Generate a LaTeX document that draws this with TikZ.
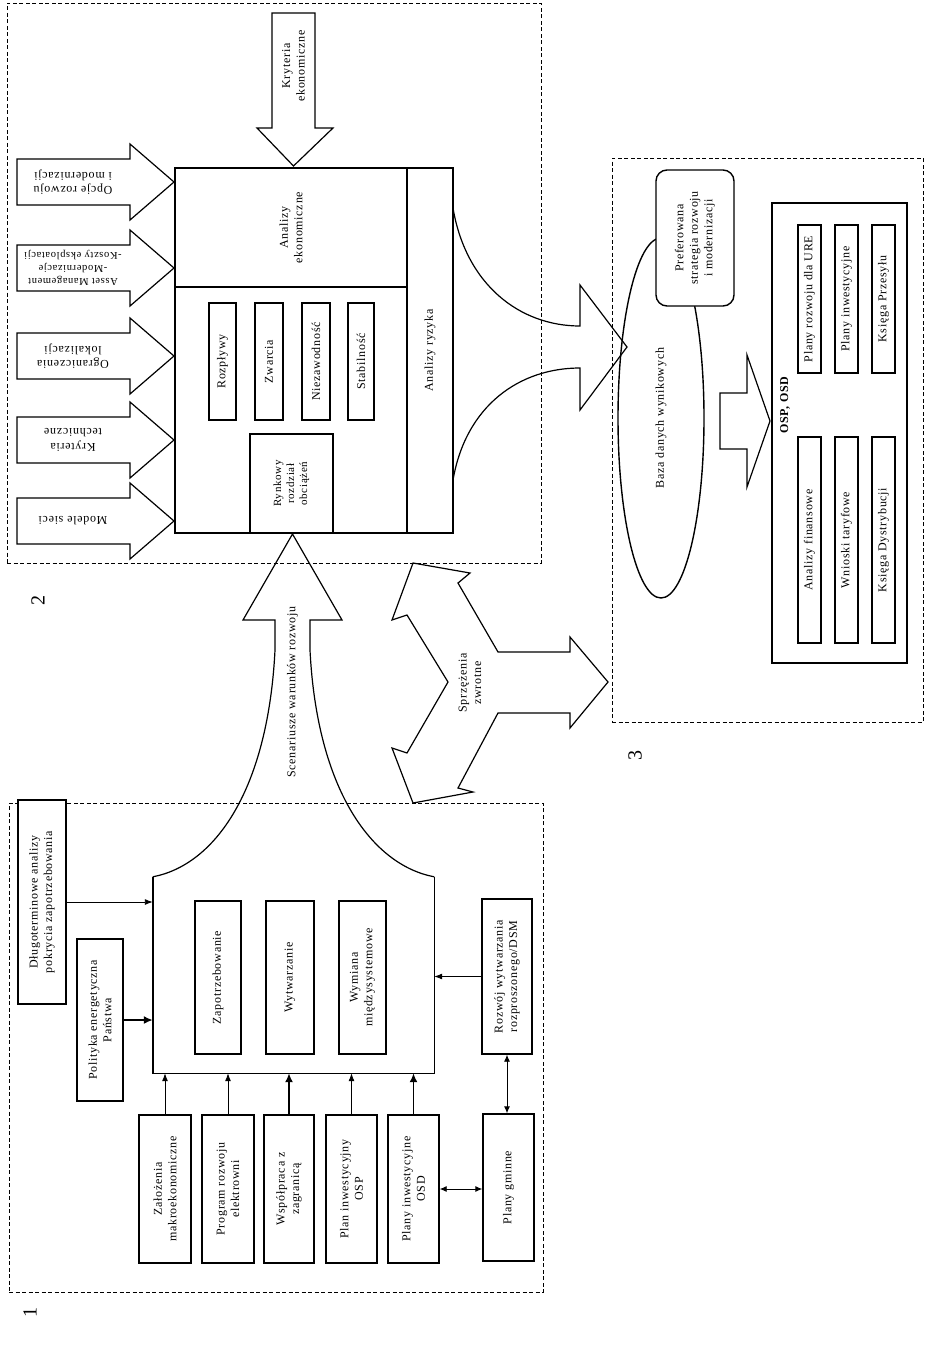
\documentclass[tikz,border=0pt]{standalone}
\usepackage{fontspec}
\setmainfont{Liberation Serif}[LetterSpace=6]
\usetikzlibrary{arrows.meta,fit,shapes.geometric}
\tikzset{
  bx/.style={draw, line width=1.4pt, inner sep=0pt, fill=white},
  tbx/.style={draw, line width=1.1pt, inner sep=0pt, fill=white},
  panel/.style={draw, line width=0.6pt, dash pattern=on 4pt off 2.5pt, inner sep=0pt},
  blk/.style={draw, line width=1.2pt, line join=miter},
  lbl/.style={align=center, inner sep=0pt},
  vlbl/.style={align=center, inner sep=0pt, rotate=90},
  thinarr/.style={line width=0.9pt, -{Latex[length=8pt,width=6pt]}},
  thickarr/.style={line width=1.7pt, -{Latex[length=9pt,width=8pt]}},
  dblarr/.style={line width=0.9pt, {Latex[length=7pt,width=6pt]}-{Latex[length=7pt,width=6pt]}},
  numlbl/.style={font=\fontsize{20}{20}\selectfont, rotate=90, inner sep=0pt},
}
% box given by two corners, with vertical text at its centre
\newcommand\bxn[4][bx]{%
  \node[#1, fit={#3}] (#2) {};
  \node[vlbl] (#2-t) at (#2.center) {#4};}
\newcommand\rar[4]{%
  \draw[blk] (17,#1-23) -- (130,#1-23) -- (130,#1-38) -- (174,#1) -- (130,#1+38) -- (130,#1+23) -- (17,#1+23) -- cycle;
  \node[lbl, rotate=180, font=#4] (#2) at (73,#1) {#3};}
\begin{document}
\begin{tikzpicture}[x=1pt,y=-1pt,font=\fontsize{12}{14.5}\selectfont]
\useasboundingbox (0,0) rectangle (928,1349);

% ---------------- panel 2 ----------------
\node[panel, fit={(7,3)(541,563)}] (p2) {};
\node[numlbl] (n2) at (38,600) {2};

\rar{182}{opcje}{Opcje rozwoju\\i modernizacji}{\fontsize{12}{14.5}\selectfont}
\rar{268}{asset}{Asset Management\\-Modernizacje\\-Koszty eksploatacji}{\fontsize{10.5}{13}\selectfont}
\rar{356}{ogr}{Ograniczenia\\lokalizacji}{\fontsize{12}{14.5}\selectfont}
\rar{440}{ktech}{Kryteria\\techniczne}{\fontsize{12}{14.5}\selectfont}
\rar{521}{mod}{Modele sieci}{\fontsize{12}{14.5}\selectfont}

\draw[blk] (272,13) -- (315,13) -- (315,128) -- (333,128) -- (293.5,166) -- (257,128) -- (272,128) -- cycle;
\node[vlbl] (kek) at (293.5,66) {Kryteria\\ekonomiczne};

\bxn{econ}{(175,168)(407,287)}{Analizy\\ekonomiczne}
\node[bx, fit={(175,287)(407,533)}] (tech) {};
\bxn{risk}{(407,168)(453,533)}{Analizy ryzyka}
\bxn[tbx]{rozp}{(209,303)(236,420)}{Rozpływy}
\bxn[tbx]{zwar}{(255,303)(283,420)}{Zwarcia}
\bxn[tbx]{niez}{(302,303)(330,420)}{Niezawodność}
\bxn[tbx]{stab}{(348,303)(374,420)}{Stabilność}
\node[tbx, fit={(250,434)(333,533)}] (rynk) {};
\node[vlbl, font=\fontsize{11}{13}\selectfont] (rynk-t) at (rynk.center) {Rynkowy\\rozdział\\obciążeń};

% curved arrow from risk analysis to result database
\draw[blk] (453,208) .. controls (466,285) and (520,326) .. (580,326) -- (580,285) -- (627,347) -- (580,410) -- (580,368) .. controls (520,368) and (466,405) .. (453,480);

% ---------------- panel 3 ----------------
\node[panel, fit={(612,158)(923,722)}] (p3) {};
\node[numlbl] (n3) at (635,755) {3};
\node[draw, ellipse, line width=1.4pt, minimum width=86, minimum height=360, inner sep=0pt] (baza) at (661,418) {};
\node[vlbl] (baza-t) at (baza.center) {Baza danych wynikowych};
\node[bx, rounded corners=11pt, fit={(656,170)(734,306)}] (pref) {};
\node[vlbl] (pref-t) at (pref.center) {Preferowana\\strategia rozwoju\\i modernizacji};
\draw[blk] (720,393) -- (747,393) -- (747,355) -- (770,421) -- (747,487) -- (747,449) -- (720,449) -- cycle;
\node[bx, fit={(772,203)(907,663)}] (osd) {};
\node[vlbl, font=\bfseries\fontsize{12}{14}\selectfont] (osdl) at (785,405) {OSP, OSD};
\bxn[tbx]{pru}{(798,225)(821,373)}{Plany rozwoju dla URE}
\bxn[tbx]{afin}{(798,437)(821,643)}{Analizy finansowe}
\bxn[tbx]{pinw}{(835,225)(858,373)}{Plany inwestycyjne}
\bxn[tbx]{wtar}{(835,437)(858,643)}{Wnioski taryfowe}
\bxn[tbx]{kprz}{(872,225)(895,373)}{Księga Przesyłu}
\bxn[tbx]{kdys}{(872,437)(895,643)}{Księga Dystrybucji}

% feedback arrow
\draw[blk] (413,563) -- (470,573) -- (458,583) -- (498,652) -- (570,652) -- (570,637) -- (608,682) -- (570,728) -- (570,713) -- (498,713) -- (458,788) -- (473,792) -- (413,803) -- (392,748) -- (407,753) -- (448,682) -- (407,615) -- (392,620) -- cycle;
\node[vlbl] (sprz) at (470,683) {Sprzężenia\\zwrotne};

% ---------------- panel 1 ----------------
\node[panel, fit={(9,803)(543,1292)}] (p1) {};
\node[numlbl] (n1) at (30,1312) {1};
\bxn{dlug}{(18,800)(66,1004)}{Długoterminowe analizy\\pokrycia zapotrzebowania}
\bxn{pol}{(77,939)(123,1101)}{Polityka energetyczna\\Państwa}
\node[inner sep=0pt, fit={(153,877)(434,1073)}] (big) {};
\draw[line width=1.4pt] (big.north west) -- (big.south west) -- (big.south east) -- (big.north east);
\draw[blk] (big.north west) .. controls (215,865) and (268,790) .. (275,650) -- (275,620) -- (243,620) -- (292.5,534) -- (342,620) -- (310,620) -- (310,650) .. controls (317,790) and (372,865) .. (big.north east);
\node[vlbl] (scen) at (292.5,692) {Scenariusze warunków rozwoju};

\bxn{zap}{(195,901)(241,1054)}{Zapotrzebowanie}
\bxn{wyt}{(266,901)(314,1054)}{Wytwarzanie}
\bxn{wym}{(339,901)(386,1054)}{Wymiana\\międzysystemowe}

\bxn{zal}{(139,1115)(191,1263)}{Założenia\\makroekonomiczne}
\bxn{prog}{(202,1115)(254,1263)}{Program rozwoju\\elektrowni}
\bxn{wsp}{(264,1115)(314,1263)}{Współpraca z\\zagranicą}
\bxn{posp}{(326,1115)(377,1263)}{Plan inwestycyjny\\OSP}
\bxn{posd}{(388,1115)(439,1263)}{Plany inwestycyjne\\OSD}
\bxn{rozw}{(482,899)(532,1054)}{Rozwój wytwarzania\\rozproszonego/DSM}
\bxn{gmin}{(483,1114)(534,1261)}{Plany gminne}

\draw[thinarr] (dlug.east) -- (dlug.east -| big.west);
\draw[thickarr] (pol.east) -- (pol.east -| big.west);
\draw[thinarr] (rozw.west) -- (rozw.west -| big.east);
\draw[thinarr] (zal.north) -- (zal.north |- big.south);
\draw[thinarr] (prog.north) -- (prog.north |- big.south);
\draw[thickarr] (wsp.north) -- (wsp.north |- big.south);
\draw[thinarr] (posp.north) -- (posp.north |- big.south);
\draw[thickarr] (posd.north) -- (posd.north |- big.south);
\draw[dblarr] (posd.east) -- (posd.east -| gmin.west);
\draw[dblarr] (rozw.south) -- (rozw.south |- gmin.north);
\end{tikzpicture}
\end{document}
